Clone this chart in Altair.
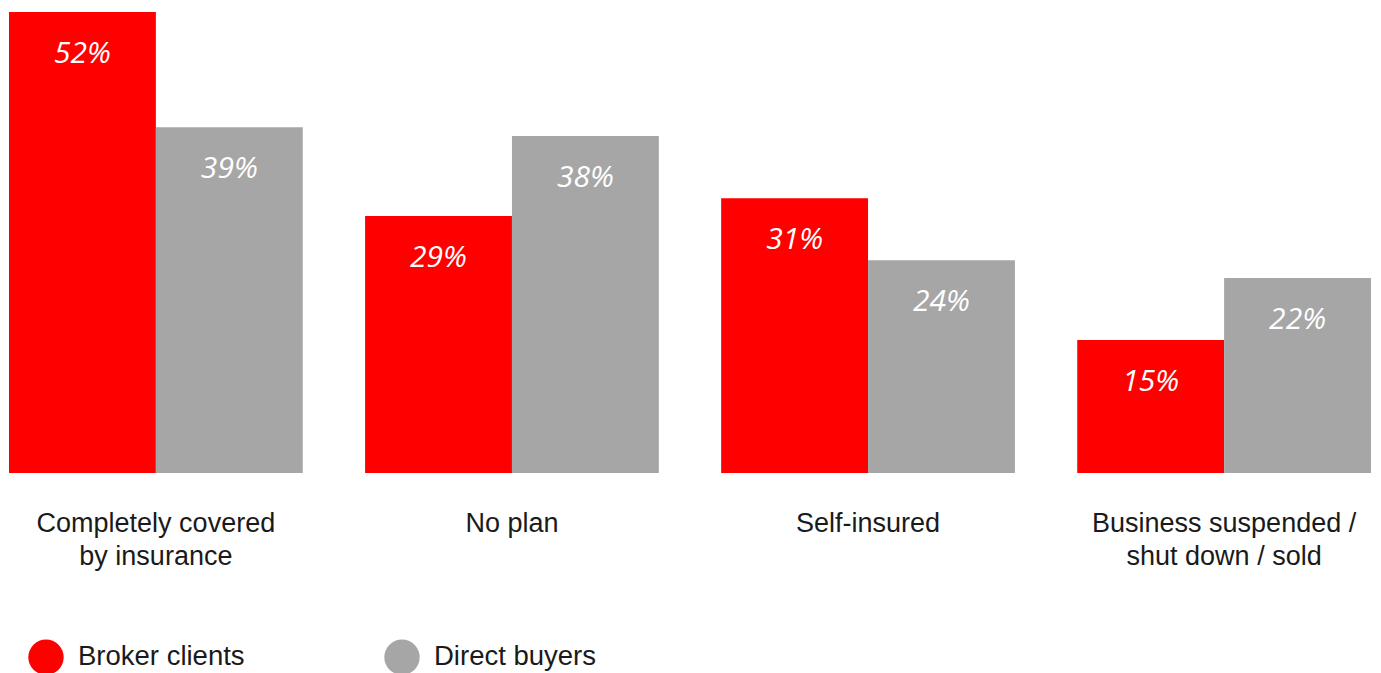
import altair as alt
import pandas as pd

categories = ["Completely covered|by insurance", "No plan", "Self-insured", "Business suspended /|shut down / sold"]
series = ["Broker clients", "Direct buyers"]
broker = [52, 29, 31, 15]
direct = [39, 38, 24, 22]

rows = []
for c, b, d in zip(categories, broker, direct):
    rows.append({"cat": c, "series": series[0], "value": b})
    rows.append({"cat": c, "series": series[1], "value": d})
df = pd.DataFrame(rows)
df["label"] = df["value"].astype(str) + "%"

x = alt.X("cat:N", sort=categories, title=None,
          scale=alt.Scale(paddingInner=0.175, paddingOuter=0),
          axis=alt.Axis(labelExpr="split(datum.label, '|')", labelAngle=0,
                        labelFontSize=27, labelFont="Liberation Sans", labelColor="#1a1a1a",
                        labelPadding=37, labelLineHeight=33, ticks=False, domain=False,
                        grid=False, labelLimit=400))
xo = alt.XOffset("series:N", sort=series, scale=alt.Scale(paddingInner=0, paddingOuter=0))
y = alt.Y("value:Q", scale=alt.Scale(domain=[0, 52], nice=False), axis=None)

bars = alt.Chart(df).mark_bar().encode(
    x=x, xOffset=xo, y=y,
    color=alt.Color("series:N", sort=series,
                    scale=alt.Scale(domain=series, range=["#FF0000", "#A6A6A6"]),
                    legend=alt.Legend(title=None, orient="none", direction="horizontal",
                                      legendX=19, legendY=627, symbolType="circle",
                                      symbolSize=1250, symbolStrokeWidth=0, symbolOpacity=1,
                                      labelFontSize=27.5, labelFont="Liberation Sans",
                                      labelColor="#1a1a1a", labelOffset=14,
                                      columnPadding=139, padding=0, labelLimit=400)),
)

text = alt.Chart(df).mark_text(font="Open Sans", fontStyle="italic", fontSize=30,
                               color="white", baseline="middle", dy=42).encode(
    x=alt.X("cat:N", sort=categories), xOffset=xo, y=y, text="label:N"
)

chart = alt.layer(bars, text).properties(
    width=1362, height=461,
    autosize=alt.AutoSizeParams(type="none"),
    padding={"left": 9, "top": 12, "right": 10, "bottom": 200},
).configure_view(stroke=None)

chart.save("out.html", embed_options={"renderer": "svg", "actions": False})
